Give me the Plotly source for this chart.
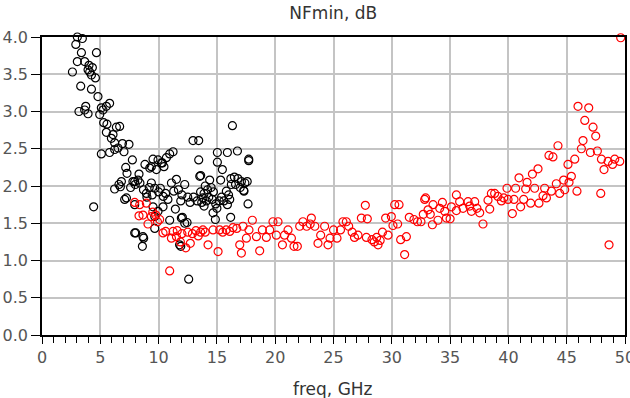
import plotly.graph_objects as go

# Black series (freq GHz, NFmin dB)
black_freq = [2.61, 2.9, 3.03, 3.46, 3.38, 4.67, 3.03, 3.66, 4.03, 4.32, 3.95, 4.09, 4.24, 4.58, 3.32, 4.24, 4.80,
              3.75, 3.17, 3.66, 3.95, 5.8, 5.52, 5.23, 4.95, 5.09, 5.29, 5.57, 6.38, 5.52, 6.09, 5.95, 6.23, 6.9,
              7.46, 6.52, 6.23, 7.03, 5.09, 5.8, 6.66, 7.75, 7.18, 7.29, 4.43, 6.23, 6.72, 7.09, 6.81, 6.6, 7.24,
              7.6, 7.95, 8.23, 8.32, 8.0, 8.4, 7.8, 7.95, 8.04, 8.72, 8.61, 8.66, 7.95, 8.83, 9.52, 9.38, 9.81,
              10.33, 10.67, 10.95, 11.24, 10.46, 9.24, 9.95, 10.24, 8.95, 9.38, 10.15, 9.67, 8.7, 9.0, 9.2, 9.45,
              10.0, 10.4, 10.6, 10.8, 11.1, 11.53, 12.24, 11.3, 11.7, 12.0, 12.5, 11.9, 12.7, 13.0, 13.3, 13.6,
              13.8, 13.9, 9.52, 9.95, 9.67, 10.38, 9.67, 10.95, 11.44, 12.04, 12.44, 11.95, 12.24, 11.9, 11.8,
              12.58, 12.95, 13.44, 13.44, 13.61, 13.53, 14.38, 14.0, 14.2, 14.5, 14.7, 13.9, 14.1, 14.3, 13.7,
              14.6, 14.9, 15.2, 15.4, 15.6, 15.0, 14.67, 14.87, 15.04, 15.9, 16.76, 16.33, 17.73, 17.73, 15.04,
              15.47, 15.32, 16.2, 16.5, 16.8, 17.1, 17.4, 16.6, 17.0, 17.3, 17.6, 16.24, 15.81, 16.1, 17.67,
              17.32, 16.18, 16.0, 15.9]
black_nf = [3.53, 3.9, 4.0, 3.98, 3.79, 3.79, 3.67, 3.67, 3.62, 3.59, 3.56, 3.53, 3.49, 3.45, 3.34, 3.30, 3.20,
            3.07, 3.0, 3.02, 2.97, 3.11, 3.07, 3.02, 2.96, 3.05, 2.85, 2.83, 2.79, 2.72, 2.69, 2.64, 2.58, 2.57,
            2.56, 2.51, 2.49, 2.46, 2.43, 2.45, 2.8, 2.35, 2.25, 2.17, 1.72, 1.96, 1.99, 1.82, 2.06, 2.02, 1.84,
            1.98, 2.06, 2.08, 2.16, 2.02, 2.04, 2.06, 1.75, 1.37, 1.30, 1.19, 1.32, 1.37, 2.29, 2.36, 2.26, 2.22,
            2.31, 2.38, 2.43, 2.46, 2.26, 2.24, 2.35, 2.31, 1.90, 2.04, 1.97, 1.97, 1.95, 1.85, 1.98, 1.88,
            1.92, 1.86, 1.90, 1.82, 2.04, 2.09, 2.02, 1.93, 1.95, 1.88, 1.85, 1.80, 1.78, 1.85, 1.80, 1.92,
            1.84, 1.73, 1.72, 1.66, 1.59, 1.72, 1.43, 1.54, 1.69, 1.58, 1.51, 1.57, 1.50, 1.19, 1.21,
            0.75, 2.61, 2.61, 2.35, 2.14, 2.13, 2.08, 2.0, 1.95, 1.98, 1.92, 1.90, 1.80, 1.85, 1.78,
            1.82, 1.76, 1.80, 1.85, 1.80, 1.70, 1.64, 1.55, 2.45, 2.45, 2.47, 2.81, 2.36, 2.34, 2.32,
            2.22, 2.08, 2.10, 2.12, 2.10, 2.06, 2.04, 2.02, 1.98, 1.94, 2.06, 2.02, 1.93, 1.82, 1.76,
            1.93, 1.58, 1.88, 1.75]

# Red series (freq GHz, NFmin dB)
red_freq = [7.95, 8.38, 8.95, 8.32, 8.66, 9.09, 9.38, 9.75, 10.09, 9.5, 9.9, 10.38, 10.61, 11.1, 11.24, 11.53,
            11.6, 11.87, 12.0, 12.33, 12.72, 12.5, 12.9, 13.2, 13.4, 13.6, 13.8, 10.95, 14.0, 14.24, 14.67,
            15.1, 15.24, 15.5, 15.8, 16.1, 16.38, 16.7, 16.96, 17.1, 17.24, 17.53, 17.75, 18.04, 18.39, 18.67,
            18.9, 19.24, 19.53, 19.81, 20.24, 20.1, 20.62, 20.8, 21.1, 21.39, 21.61, 21.9, 22.1, 22.38, 22.7,
            23.0, 23.1, 23.4, 23.67, 23.9, 24.24, 24.53, 24.7, 25.0, 25.3, 25.6, 25.81, 26.1, 26.3, 26.6, 26.8,
            27.1, 27.39, 27.73, 27.9, 27.82, 28.3, 28.5, 28.7, 28.82, 29.0, 29.2, 29.47, 29.68, 29.96, 30.1,
            30.25, 30.62, 30.5, 30.76, 31.1, 31.25, 31.5, 31.9, 32.2, 32.5, 32.7, 32.82, 32.9, 33.11, 33.3,
            33.48, 33.54, 33.96, 34.11, 34.34, 34.54, 34.68, 35.0, 35.11, 35.54, 35.54, 35.82, 36.11, 36.54,
            36.68, 36.83, 37.11, 37.3, 37.54, 37.82, 38.25, 38.4, 38.54, 38.82, 39.1, 39.4, 39.6, 39.88, 39.97,
            40.34, 40.48, 40.62, 40.91, 41.05, 41.31, 41.48, 41.6, 41.91, 42.06, 42.25, 42.54, 42.62, 42.97,
            43.11, 43.26, 43.48, 43.69, 43.82, 44.11, 44.25, 44.4, 44.74, 44.83, 45.11, 45.2, 45.4, 45.69,
            45.88, 45.97, 46.26, 46.4, 46.55, 46.89, 47.03, 47.26, 47.49, 47.63, 47.92, 47.98, 48.2, 48.55,
            48.63, 48.93, 49.12, 49.55, 49.63]
red_nf = [1.78, 1.75, 1.77, 1.60, 1.61, 1.49, 1.59, 1.61, 1.55, 1.65, 1.52, 1.37, 1.39, 1.30, 1.39, 1.32,
          1.40, 1.25, 1.36, 1.17, 1.23, 1.38, 1.36, 1.40, 1.33, 1.38, 1.41, 0.86, 1.38, 1.21, 1.41,
          1.12, 1.41, 1.38, 1.41, 1.39, 1.44, 1.43, 1.21, 1.10, 1.46, 1.30, 1.41, 1.54, 1.32, 1.13,
          1.41, 1.31, 1.41, 1.52, 1.52, 1.34, 1.21, 1.34, 1.41, 1.30, 1.19, 1.19, 1.46, 1.52, 1.46,
          1.49, 1.57, 1.46, 1.23, 1.34, 1.46, 1.21, 1.30, 1.41, 1.30, 1.41, 1.52, 1.52, 1.46, 1.38, 1.31,
          1.34, 1.57, 1.74, 1.56, 1.31, 1.28, 1.25, 1.31, 1.21, 1.27, 1.38, 1.57, 1.34, 1.59, 1.47,
          1.75, 1.75, 1.49, 1.28, 1.08, 1.32, 1.58, 1.55, 1.52, 1.52, 1.62, 1.82, 1.84, 1.68, 1.62,
          1.48, 1.75, 1.54, 1.70, 1.78, 1.66, 1.57, 1.56, 1.72, 1.88, 1.67, 1.79, 1.70, 1.79,
          1.73, 1.66, 1.79, 1.70, 1.64, 1.49, 1.81, 1.69, 1.90, 1.90, 1.86, 1.80, 1.84, 1.97, 1.82,
          1.63, 1.82, 1.97, 2.11, 1.72, 1.82, 1.96, 2.05, 1.77, 2.16, 1.97, 2.23, 1.77, 1.87,
          1.97, 1.84, 2.41, 1.93, 2.39, 2.03, 2.54, 1.90, 2.08, 1.95, 2.29, 2.05, 2.13, 2.36,
          1.93, 3.07, 2.50, 2.61, 2.88, 3.05, 2.45, 2.79, 2.67, 2.47, 1.90, 2.36, 2.22, 2.33,
          1.21, 2.29, 2.36, 2.33, 3.99]

x_ticks = [0, 5, 10, 15, 20, 25, 30, 35, 40, 45, 50]
y_ticks = [0.0, 0.5, 1.0, 1.5, 2.0, 2.5, 3.0, 3.5, 4.0]

fig = go.Figure()
fig.add_trace(go.Scatter(x=black_freq, y=black_nf, mode="markers", cliponaxis=False,
                         marker=dict(symbol="circle-open", size=8, color="black", line=dict(width=1.2))))
fig.add_trace(go.Scatter(x=red_freq, y=red_nf, mode="markers", cliponaxis=False,
                         marker=dict(symbol="circle-open", size=8, color="red", line=dict(width=1.2))))

font_family = "DejaVu Sans, Verdana, sans-serif"
fig.update_layout(
    width=630, height=398,
    margin=dict(l=42, r=5, t=37, b=63, autoexpand=False),
    paper_bgcolor="white", plot_bgcolor="white",
    showlegend=False,
    font=dict(family=font_family, color="#555", size=16),
    title=dict(text="NFmin, dB", x=0.529, xanchor="center", y=0.966, yanchor="middle",
               font=dict(family=font_family, size=17, color="#333")),
    annotations=[dict(text="freq, GHz", xref="paper", yref="paper", x=0.499, y=-0.181,
                      xanchor="center", yanchor="middle", showarrow=False,
                      font=dict(family=font_family, size=17, color="#333"))],
)
fig.update_xaxes(
    range=[0, 50], tickvals=x_ticks, ticktext=[str(v) for v in x_ticks],
    showgrid=True, gridcolor="#c4c4c4", gridwidth=1.5,
    showline=True, linecolor="black", linewidth=1.5, mirror=True,
    ticks="outside", ticklen=7, tickcolor="black", tickwidth=1.2,
    minor=dict(dtick=1, tick0=0, ticks="outside", ticklen=6, tickcolor="black", tickwidth=1.2, showgrid=False),
    zeroline=False, tickfont=dict(size=16, color="#555"), ticklabeloverflow="allow", automargin=False,
)
fig.update_yaxes(
    range=[0, 4], tickvals=y_ticks, ticktext=[f"{v:.1f}" for v in y_ticks],
    showgrid=True, gridcolor="#c4c4c4", gridwidth=1.5,
    showline=True, linecolor="black", linewidth=1.5, mirror=True,
    ticks="outside", ticklen=9, tickcolor="black", tickwidth=1.2,
    zeroline=False, tickfont=dict(size=16, color="#555"), automargin=False,
)

fig.write_html("out.html")
